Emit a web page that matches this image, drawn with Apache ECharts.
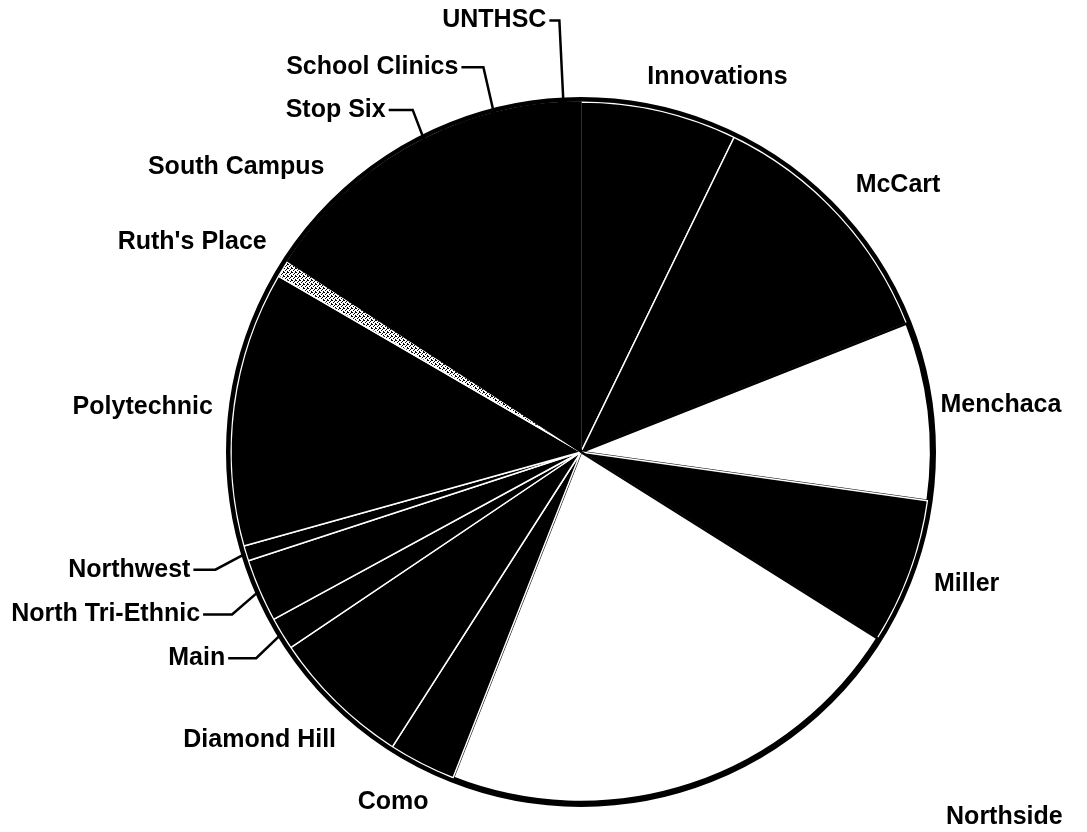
<!DOCTYPE html>
<html>
<head>
<meta charset="utf-8">
<script src="https://cdn.jsdelivr.net/npm/echarts@6/dist/echarts.min.js"></script>
<style>
html,body{margin:0;padding:0;background:#fff;}
#chart{width:1087px;height:832px;}
</style>
</head>
<body>
<div id="chart"></div>
<script>
// ---- data (percent share of the pie) ----
const categories = ["Innovations","McCart","Menchaca","Miller","Northside","Como","Diamond Hill","Main",
  "North Tri-Ethnic","Northwest","Polytechnic","Ruth's Place","South Campus","Stop Six","School Clinics","UNTHSC"];
const shares = [7.2, 11.8, 8.2, 6.7, 22.0, 3.1, 6.5, 1.5, 2.9, 0.7, 12.7, 0.8, 7.4, 2.0, 4.8, 1.6];

// ---- styles (kept apart from the data) ----
const whiteSlices = ["Menchaca","Northside"];
const plainBlack = ["South Campus","Stop Six","School Clinics","UNTHSC"];
const leaderLabels = {
  "Northwest":        {length: 32, length2: 17},
  "North Tri-Ethnic": {length: 30, length2: 24},
  "Main":             {length: 30, length2: 24},
  "Stop Six":         {length: 25, length2: 24},
  "School Clinics":   {length: 42, length2: 24},
  "UNTHSC":           {length: 80, length2: 12}
};
const labelNudges = {
  "Innovations": [-18, -22], "McCart": [6, -21], "Menchaca": [-3, -4], "Miller": [10, 8],
  "Northside": [249, 21], "Como": [15, 28], "Diamond Hill": [11, 29], "Polytechnic": [-6, 1],
  "Ruth's Place": [-3, -20], "South Campus": [-4, -23],
  "Northwest": [-5, 7], "North Tri-Ethnic": [-5, 12], "Main": [-4, 9],
  "Stop Six": [0, -7], "School Clinics": [2, -5], "UNTHSC": [2, -2]
};

function stipple() {
  const c = document.createElement('canvas');
  c.width = 4; c.height = 4;
  const g = c.getContext('2d');
  g.fillStyle = '#fff'; g.fillRect(0,0,4,4);
  g.fillStyle = '#000';
  g.fillRect(0,0,1,1); g.fillRect(2,1,1,1); g.fillRect(1,2,1,1); g.fillRect(3,3,1,1); g.fillRect(3,0,1,1);
  return c;
}
const stipplePattern = stipple();

const pieData = categories.map((name, i) => {
  const item = {name: name, value: shares[i]};
  if (whiteSlices.includes(name)) {
    item.itemStyle = {color: '#fff', borderColor: '#000', borderWidth: 2.5};
  } else if (name === "Ruth's Place") {
    item.itemStyle = {color: {image: stipplePattern, repeat: 'repeat'}, borderColor: '#fff', borderWidth: 1.5};
  } else if (plainBlack.includes(name)) {
    item.itemStyle = {color: '#000', borderColor: '#000', borderWidth: 1.5};
  } else {
    item.itemStyle = {color: '#000', borderColor: '#fff', borderWidth: 1.5};
  }
  const ll = leaderLabels[name];
  if (ll) {
    item.labelLine = {show: true, length: ll.length, length2: ll.length2, smooth: false,
      lineStyle: {color: '#000', width: 2.5}};
  } else {
    item.labelLine = {show: false, length: 12, length2: 0};
  }
  return item;
});

const chart = echarts.init(document.getElementById('chart'), null, {renderer: 'canvas'});
chart.setOption({
  backgroundColor: '#fff',
  animation: false,
  series: [
    {
      type: 'pie',
      center: [581, 452],
      radius: [0, 350],
      startAngle: 90,
      clockwise: true,
      avoidLabelOverlap: false,
      minShowLabelAngle: 0,
      data: pieData,
      label: {
        show: true,
        position: 'outside',
        color: '#000',
        fontFamily: 'Liberation Sans, Arial, sans-serif',
        fontWeight: 'bold',
        fontSize: 25,
        distanceToLabelLine: 3,
        alignTo: 'none'
      },
      labelLayout: function (params) {
        const n = categories[params.dataIndex];
        const d = labelNudges[n] || [0, 0];
        const res = {dx: d[0], dy: d[1]};
        const p = params.labelLinePoints;
        if (leaderLabels[n] && p && p.length === 3) {
          res.labelLinePoints = [
            [p[0][0], p[0][1]],
            [p[1][0], p[1][1] + d[1]],
            [p[2][0] + d[0], p[2][1] + d[1]]
          ];
        }
        return res;
      },
      emphasis: {disabled: true}
    },
    {
      type: 'pie',
      center: [581, 452],
      radius: [352.5, 353],
      silent: true,
      label: {show: false},
      labelLine: {show: false},
      itemStyle: {color: '#000', borderColor: '#000', borderWidth: 4},
      data: [{value: 1, name: 'outline'}],
      emphasis: {disabled: true}
    }
  ]
});
</script>
</body>
</html>
